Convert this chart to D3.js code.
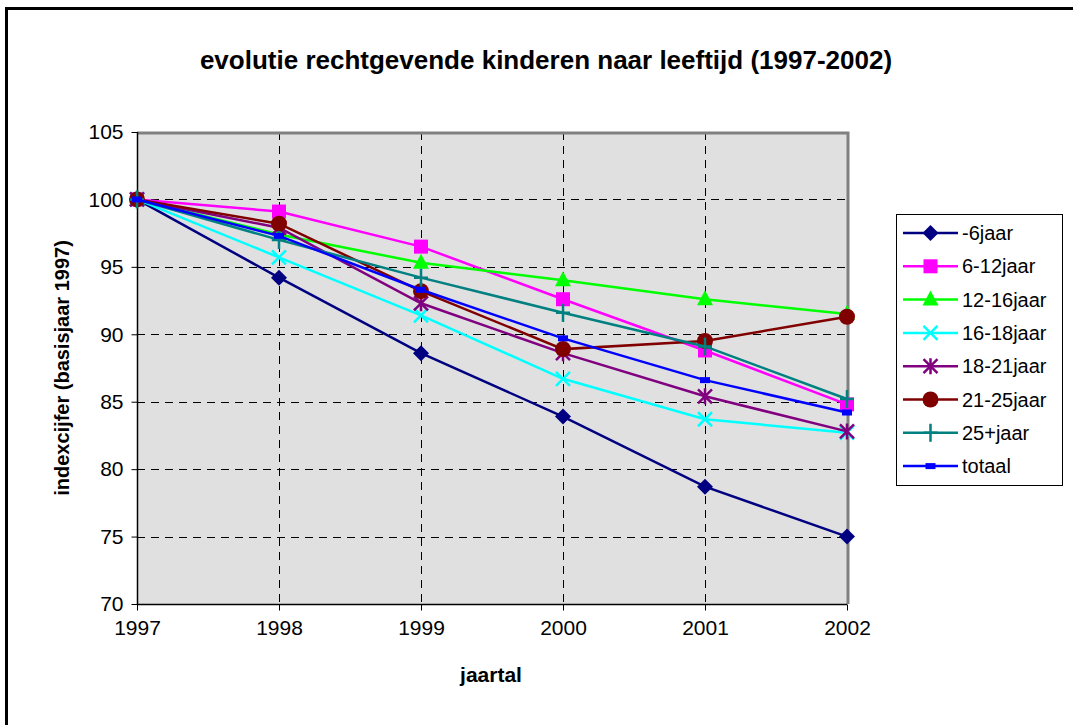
<!DOCTYPE html>
<html>
<head>
<meta charset="utf-8">
<script src="https://cdn.jsdelivr.net/npm/d3@7"></script>
<style>
  body { margin: 0; background: #fff; }
  svg { font-family: Arial, "Liberation Sans", sans-serif; }
</style>
</head>
<body>
<svg id="chart" width="1073" height="725"></svg>
<script>
// data
var years = [1997, 1998, 1999, 2000, 2001, 2002];
var seriesNames = ["-6jaar", "6-12jaar", "12-16jaar", "16-18jaar", "18-21jaar", "21-25jaar", "25+jaar", "totaal"];
var v_min6   = [100, 94.2, 88.6, 83.9, 78.7, 75.0];
var v_6_12   = [100, 99.1, 96.5, 92.6, 88.8, 84.8];
var v_12_16  = [100, 97.4, 95.3, 94.0, 92.6, 91.5];
var v_16_18  = [100, 95.7, 91.4, 86.7, 83.7, 82.7];
var v_18_21  = [100, 97.9, 92.3, 88.6, 85.4, 82.8];
var v_21_25  = [100, 98.2, 93.2, 88.9, 89.5, 91.3];
var v_25plus = [100, 97.0, 94.2, 91.6, 89.1, 85.2];
var v_totaal = [100, 97.3, 93.3, 89.7, 86.6, 84.2];
var yTicks = [70, 75, 80, 85, 90, 95, 100, 105];

var seriesValues = [v_min6, v_6_12, v_12_16, v_16_18, v_18_21, v_21_25, v_25plus, v_totaal];
var colors  = ["#000080", "#FF00FF", "#00FF00", "#00FFFF", "#800080", "#800000", "#008080", "#0000FF"];
var markers = ["diamond", "square", "triangle", "x", "star", "circle", "plus", "dash"];

var svg = d3.select("#chart");

// outer frame
svg.append("rect")
  .attr("x", 6.5).attr("y", 8.5)
  .attr("width", 1100).attr("height", 760)
  .attr("fill", "none").attr("stroke", "#000").attr("stroke-width", 3);

// title
svg.append("text")
  .attr("x", 546).attr("y", 69)
  .attr("text-anchor", "middle")
  .attr("font-size", "26px").attr("font-weight", "bold")
  .text("evolutie rechtgevende kinderen naar leeftijd (1997-2002)");

var pLeft = 137, pRight = 847, pTop = 132, pBottom = 604;

var x = d3.scalePoint().domain(years).range([pLeft, pRight]);
var y = d3.scaleLinear().domain([70, 105]).range([pBottom, pTop]);

// plot background
svg.append("rect")
  .attr("x", pLeft).attr("y", pTop)
  .attr("width", pRight - pLeft).attr("height", pBottom - pTop)
  .attr("fill", "#E0E0E0");

// grid
var grid = svg.append("g").attr("class", "grid");
grid.selectAll("line.h").data(yTicks.slice(1, -1))
  .enter().append("line")
    .attr("x1", pLeft).attr("x2", pRight)
    .attr("y1", function(d) { return Math.round(y(d)) + 0.5; })
    .attr("y2", function(d) { return Math.round(y(d)) + 0.5; })
    .attr("stroke", "#000").attr("stroke-dasharray", "8,6");
grid.selectAll("line.v").data(years.slice(1, -1))
  .enter().append("line")
    .attr("y1", pTop).attr("y2", pBottom)
    .attr("x1", function(d) { return Math.round(x(d)) + 0.5; })
    .attr("x2", function(d) { return Math.round(x(d)) + 0.5; })
    .attr("stroke", "#000").attr("stroke-dasharray", "8,6");

// plot border (grey top/right)
svg.append("path")
  .attr("d", "M" + pLeft + "," + (pTop + 1) + "H" + (pRight + 1) + "V" + pBottom)
  .attr("fill", "none").attr("stroke", "#808080").attr("stroke-width", 3);

// axes
var yAxis = d3.axisLeft(y).tickValues(yTicks).tickSize(6).tickPadding(8);
var gy = svg.append("g").attr("transform", "translate(" + (pLeft + 0.5) + ",0)").call(yAxis);
var xAxis = d3.axisBottom(x).tickSize(6).tickPadding(10).tickFormat(d3.format("d"));
var gx = svg.append("g").attr("transform", "translate(0," + (pBottom + 0.5) + ")").call(xAxis);
[gx, gy].forEach(function(g) {
  g.select(".domain").attr("stroke", "#000").attr("stroke-width", 1.5);
  g.selectAll(".tick line").attr("stroke", "#000");
  g.selectAll("text").attr("font-size", "21px").attr("fill", "#000")
    .attr("font-family", "Arial, 'Liberation Sans', sans-serif");
});
gx.select(".domain").attr("d", "M" + pLeft + ",0H" + pRight);
gy.select(".domain").attr("d", "M0," + pTop + "V" + pBottom);

// axis titles
svg.append("text")
  .attr("transform", "translate(69,368) rotate(-90)")
  .attr("text-anchor", "middle")
  .attr("font-size", "20px").attr("font-weight", "bold")
  .text("indexcijfer (basisjaar 1997)");
svg.append("text")
  .attr("x", 491).attr("y", 682)
  .attr("text-anchor", "middle")
  .attr("font-size", "21px").attr("font-weight", "bold")
  .text("jaartal");

// marker drawing
function drawMarker(g, type, color) {
  if (type === "diamond") {
    g.append("path").attr("d", "M0,-8L8,0L0,8L-8,0Z").attr("fill", color);
  } else if (type === "square") {
    g.append("rect").attr("x", -7).attr("y", -7).attr("width", 14).attr("height", 14).attr("fill", color);
  } else if (type === "triangle") {
    g.append("path").attr("d", "M0,-9L8,6L-8,6Z").attr("fill", color);
  } else if (type === "x") {
    g.append("path").attr("d", "M-7,-7L7,7M-7,7L7,-7").attr("stroke", color).attr("stroke-width", 2.5);
  } else if (type === "star") {
    g.append("path").attr("d", "M-7,-7L7,7M-7,7L7,-7M0,-8V8").attr("stroke", color).attr("stroke-width", 2.5);
  } else if (type === "circle") {
    g.append("circle").attr("r", 8).attr("fill", color);
  } else if (type === "plus") {
    g.append("path").attr("d", "M-7,0H7M0,-9V9").attr("stroke", color).attr("stroke-width", 2.5);
  } else if (type === "dash") {
    g.append("rect").attr("x", -5).attr("y", -3).attr("width", 10).attr("height", 6).attr("fill", color);
  }
}

var line = d3.line()
  .x(function(d, i) { return x(years[i]); })
  .y(function(d) { return y(d); });

var series = svg.append("g").attr("class", "series");
seriesValues.forEach(function(vals, si) {
  var g = series.append("g");
  g.append("path")
    .attr("d", line(vals))
    .attr("fill", "none")
    .attr("stroke", colors[si])
    .attr("stroke-width", 2.5);
  vals.forEach(function(v, i) {
    var m = g.append("g").attr("transform", "translate(" + x(years[i]) + "," + y(v) + ")");
    drawMarker(m, markers[si], colors[si]);
  });
});

// legend
var legend = svg.append("g").attr("class", "legend");
legend.append("rect")
  .attr("x", 896.5).attr("y", 214.5)
  .attr("width", 166).attr("height", 271)
  .attr("fill", "#fff").attr("stroke", "#000");
seriesNames.forEach(function(name, i) {
  var ly = 233 + i * 33.3;
  var item = legend.append("g").attr("transform", "translate(0," + ly + ")");
  item.append("line")
    .attr("x1", 903).attr("x2", 958)
    .attr("stroke", colors[i]).attr("stroke-width", 2.5);
  var m = item.append("g").attr("transform", "translate(930.5,0)");
  drawMarker(m, markers[i], colors[i]);
  item.append("text")
    .attr("x", 962).attr("y", 7)
    .attr("font-size", "20px")
    .text(name);
});
</script>
</body>
</html>
